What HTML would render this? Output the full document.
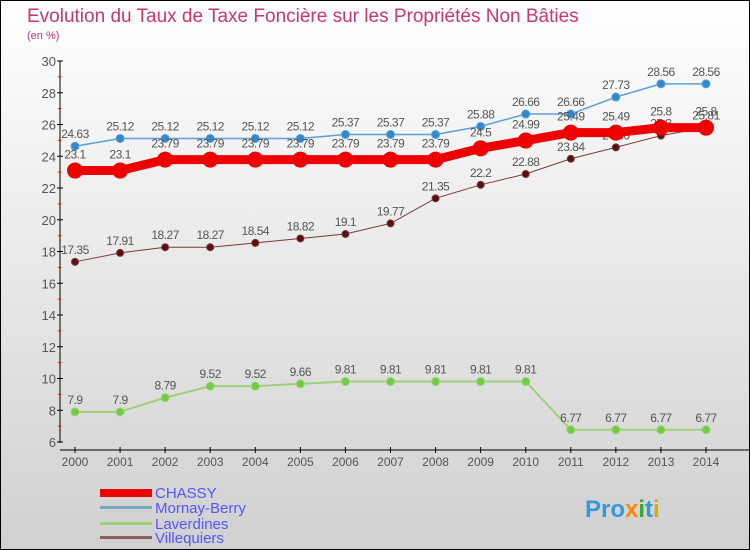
<!DOCTYPE html>
<html><head><meta charset="utf-8"><style>
body{margin:0;width:750px;height:550px;overflow:hidden}
svg{display:block;font-family:"Liberation Sans",sans-serif}
</style></head><body>
<svg id="c" width="750" height="550">
<defs><linearGradient id="bg" x1="0" y1="0" x2="0" y2="1"><stop offset="0" stop-color="#ffffff"/><stop offset="1" stop-color="#d0d0d0"/></linearGradient></defs>
<rect x="0.5" y="0.5" width="749" height="549" fill="url(#bg)" stroke="#000"/>
<text x="27" y="22" font-size="19" fill="#c8386a">Evolution du Taux de Taxe Foncière sur les Propriétés Non Bâties</text>
<text x="27" y="39" font-size="11" fill="#c8386a">(en %)</text>
<g id="axes"></g><g id="series"></g>
<g>
<rect x="100" y="489" width="52" height="8" fill="#e00"/>
<text x="155" y="498" font-size="15" fill="#5555ff">CHASSY</text>
<rect x="100" y="506" width="52" height="3" fill="#7aa6c8"/>
<text x="155" y="513" font-size="15" fill="#5555ff">Mornay-Berry</text>
<rect x="100" y="522" width="52" height="3" fill="#9ed07a"/>
<text x="155" y="529" font-size="15" fill="#5555ff">Laverdines</text>
<rect x="100" y="536" width="52" height="3" fill="#8a6060"/>
<text x="155" y="543" font-size="15" fill="#5555ff">Villequiers</text>
</g>
<text x="585" y="517" font-size="24" font-weight="bold" fill="#3399dd">Pro<tspan fill="#ff8800">x</tspan><tspan fill="#33aa33">i</tspan>t<tspan fill="#ddaa00">i</tspan></text>
</svg>
<script>
const years=[2000,2001,2002,2003,2004,2005,2006,2007,2008,2009,2010,2011,2012,2013,2014];
const yTicks=[6,8,10,12,14,16,18,20,22,24,26,28,30];
const chassy=[23.1,23.1,23.79,23.79,23.79,23.79,23.79,23.79,23.79,24.5,24.99,25.49,25.49,25.8,25.8];
const mornay=[24.63,25.12,25.12,25.12,25.12,25.12,25.37,25.37,25.37,25.88,26.66,26.66,27.73,28.56,28.56];
const laverdines=[7.9,7.9,8.79,9.52,9.52,9.66,9.81,9.81,9.81,9.81,9.81,6.77,6.77,6.77,6.77];
const villequiers=[17.35,17.91,18.27,18.27,18.54,18.82,19.1,19.77,21.35,22.2,22.88,23.84,24.56,25.3,25.81];
const NS="http://www.w3.org/2000/svg";
const X=i=>75+i*(706-75)/(years.length-1);
const Y=v=>442-(v-6)*(442-61)/24;
function mk(p,t,a){const e=document.createElementNS(NS,t);for(const k in a)e.setAttribute(k,a[k]);p.appendChild(e);return e;}
const ax=document.getElementById('axes');
let yl=mk(ax,'line',{x1:60,y1:61,x2:60,y2:443,stroke:'#000'});


let xl=mk(ax,'line',{x1:60,y1:450,x2:750,y2:450,stroke:'#000'});


yTicks.forEach(v=>{
 mk(ax,'line',{x1:57,y1:Y(v),x2:63,y2:Y(v),stroke:'#000'});
 if(v<30)mk(ax,'line',{x1:58,y1:Y(v+1),x2:61,y2:Y(v+1),stroke:'#f00'});
 const t=mk(ax,'text',{x:56,y:Y(v)+5,'font-size':13,fill:'#555','text-anchor':'end'});
 t.textContent=v;
 
 
});
years.forEach((y,i)=>{
 mk(ax,'line',{x1:X(i),y1:447,x2:X(i),y2:453,stroke:'#000'});
 const t=mk(ax,'text',{x:X(i),y:466,'font-size':12,fill:'#555','text-anchor':'middle'});
 t.textContent=y;
 
 
});
const sg=document.getElementById('series');
function series(data,name,color,lw,pc,r,dy){
 const g=mk(sg,'g',{});
 
 
 const l=mk(g,'polyline',{points:data.map((v,i)=>X(i)+','+Y(v)).join(' '),fill:'none',stroke:color,'stroke-width':lw});
 
 
 data.forEach((v,i)=>{
  const c=mk(g,'circle',{cx:X(i),cy:Y(v),r:r,fill:pc,stroke:color,'stroke-width':1});
  
  
  const t=mk(g,'text',{x:X(i),y:Y(v)+dy,'font-size':12,fill:'#555','text-anchor':'middle','letter-spacing':'-0.5'});
  t.textContent=v;
  
  
 });
}
series(villequiers,'villequiers','#7a3a3a',1,'#5a1010',3.5,-8);
series(laverdines,'laverdines','#9ed07a',2,'#70cc40',4,-8);
series(mornay,'mornay-berry','#5aa0d8',1.5,'#3388cc',4,-8);
series(chassy,'chassy','#ee0000',9,'#ee0000',7.5,-12);
</script>
</body></html>
